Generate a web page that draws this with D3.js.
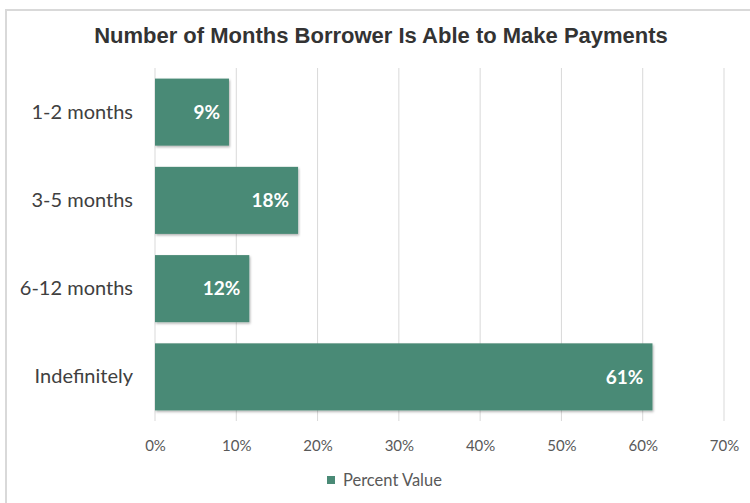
<!DOCTYPE html>
<html><head><meta charset="utf-8">
<script src="https://cdn.jsdelivr.net/npm/d3@7"></script>
<style>
html,body{margin:0;padding:0;background:#fff;}
svg{display:block;}
</style></head>
<body>
<svg id="chart" width="750" height="503"></svg>
<script>
const categories = ["1-2 months", "3-5 months", "6-12 months", "Indefinitely"];
const percentValues = [9.1, 17.6, 11.6, 61.2];
const valueLabels = ["9%", "18%", "12%", "61%"];
const tickValues = [0, 10, 20, 30, 40, 50, 60, 70];
const seriesName = "Percent Value";
const titleText = "Number of Months Borrower Is Able to Make Payments";

const svg = d3.select("#chart");
const W = 750, H = 503;
const m = {left:155, right:26, top:68, bottom:82};
const color = "#4a8a76";
const labelFont = "Lato, 'Open Sans', sans-serif";

// frame
svg.append("rect").attr("x",6).attr("y",10).attr("width",780).attr("height",520)
  .attr("fill","#fff").attr("stroke","#d9d9d9").attr("stroke-width",2);

const x = d3.scaleLinear().domain([0,70]).range([m.left, W - m.right]);
const y = d3.scaleBand().domain(categories).range([m.top, H - m.bottom]).paddingInner(0.24).paddingOuter(0.12);

// gridlines
svg.append("g").selectAll("line").data(tickValues).join("line")
  .attr("x1",d=>x(d)).attr("x2",d=>x(d))
  .attr("y1",m.top).attr("y2",H - m.bottom)
  .attr("stroke","#d9d9d9").attr("stroke-width",1);

// shadow filter
const defs = svg.append("defs");
const f = defs.append("filter").attr("id","sh").attr("x","-5%").attr("y","-5%").attr("width","115%").attr("height","120%");
f.append("feDropShadow").attr("dx",1).attr("dy",1.5).attr("stdDeviation",1.2).attr("flood-color","#000").attr("flood-opacity",0.3);

const data = categories.map((c,i)=>({c, v:percentValues[i], l:valueLabels[i]}));

svg.append("g").selectAll("rect").data(data).join("rect")
  .attr("x",x(0)).attr("y",d=>y(d.c))
  .attr("width",d=>x(d.v)-x(0)).attr("height",y.bandwidth())
  .attr("fill",color).attr("filter","url(#sh)");

svg.append("g").selectAll("text").data(data).join("text")
  .attr("x",d=>x(d.v)-9).attr("y",d=>y(d.c)+y.bandwidth()/2)
  .attr("dy","0.35em").attr("text-anchor","end")
  .attr("fill","#fff").attr("font-weight","bold").attr("font-size","19px")
  .attr("font-family",labelFont).text(d=>d.l);

// y axis labels
const yAxis = d3.axisLeft(y).tickSize(0).tickPadding(22);
const ya = svg.append("g").attr("transform",`translate(${m.left},0)`).call(yAxis);
ya.select(".domain").remove();
ya.selectAll("text").attr("font-size","20px").attr("font-family",labelFont).attr("fill","#404040");

// x axis
const xAxis = d3.axisBottom(x).tickValues(tickValues).tickFormat(d=>d+"%").tickSize(0).tickPadding(19);
const xa = svg.append("g").attr("transform",`translate(0,${H - m.bottom})`).call(xAxis);
xa.select(".domain").remove();
xa.selectAll("text").attr("font-size","15px").attr("font-family",labelFont).attr("fill","#595959");

// title
svg.append("text").attr("x",381).attr("y",43).attr("text-anchor","middle")
  .attr("font-family","'Liberation Sans', Arial, sans-serif").attr("font-weight","bold")
  .attr("font-size","22px").attr("fill","#333")
  .text(titleText);

// legend
const lg = svg.append("g").attr("transform","translate(327,480)");
lg.append("rect").attr("x",0).attr("y",-4).attr("width",8).attr("height",8).attr("fill",color);
lg.append("text").attr("x",16).attr("y",0).attr("dy","0.35em")
  .attr("font-size","16.5px").attr("font-family",labelFont).attr("fill","#595959").text(seriesName);
</script>
</body></html>
